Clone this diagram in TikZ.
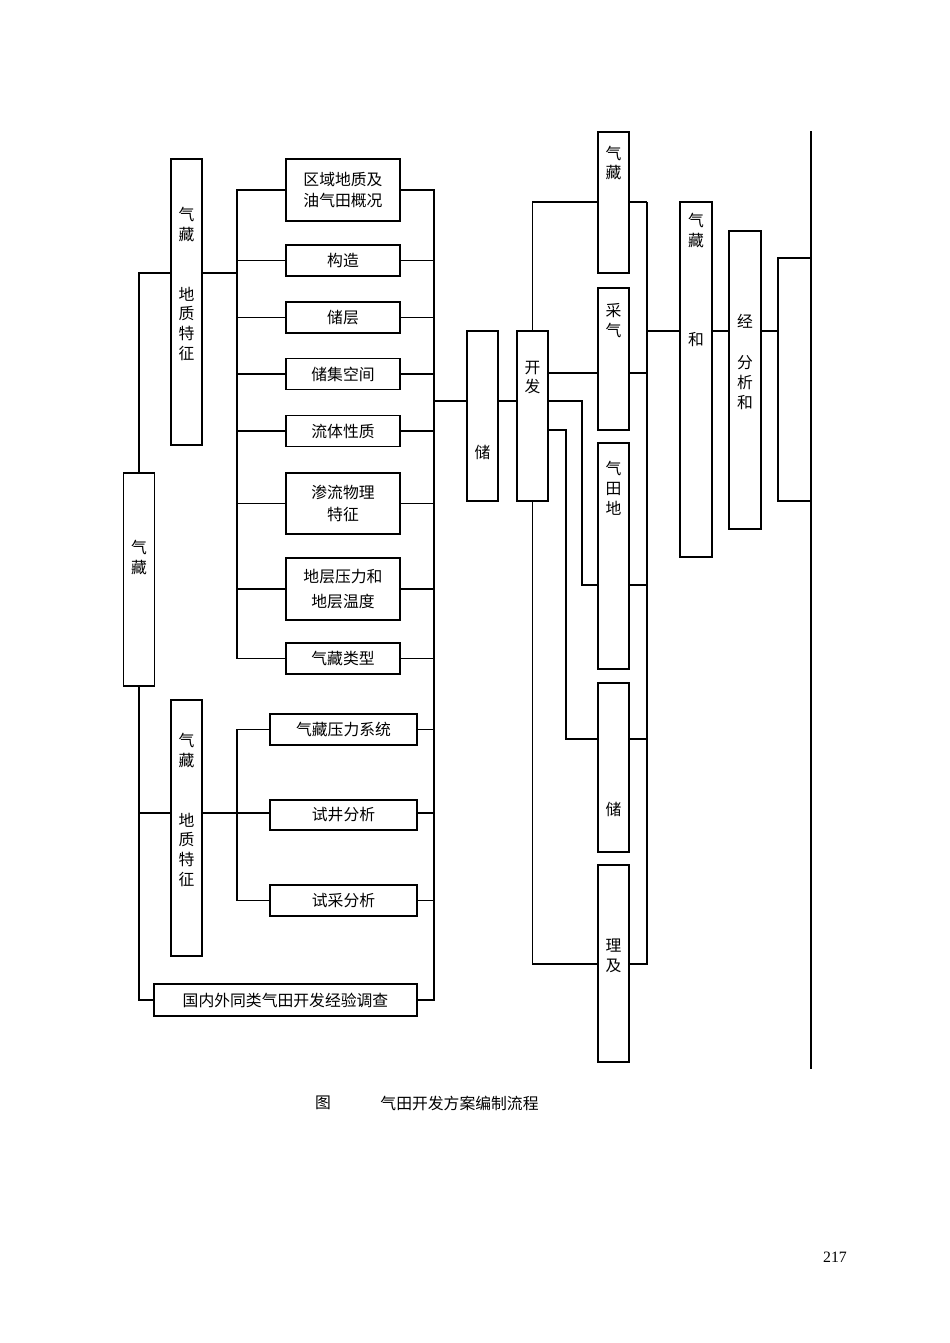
\documentclass[tikz,border=0pt]{standalone}
\usepackage{fontspec}
\setmainfont{Liberation Serif}
\newfontfamily\cjk{Noto Sans CJK SC}
\begin{document}
\begin{tikzpicture}[x=0.02cm, y=-0.02cm, line width=0.7pt,
	box/.style={draw, inner sep=0pt, align=center, font=\cjk\fontsize{9}{12}\selectfont},
	vbox/.style={draw, inner sep=0pt, minimum width=0.62cm},
	vtext/.style={inner sep=0pt, align=center, font=\cjk\fontsize{9}{11.34}\selectfont},
	heavy/.style={line width=1.1pt}]
	\useasboundingbox (0,0) rectangle (950,1343);

	\node[vbox, minimum height=5.72cm] (geoA) at (186.5,302) {};
	\node[vtext] (geoA-t) at (186.5,284) {气\\藏\\[22.7pt]地\\质\\特\\征};
	\node[vbox, minimum height=4.26cm] (resv) at (139,579.5) {};
	\node[vtext] (resv-t) at (139,557.5) {气\\藏};
	\node[vbox, minimum height=5.12cm] (geoB) at (186.5,828) {};
	\node[vtext] (geoB-t) at (186.5,810) {气\\藏\\[22.7pt]地\\质\\特\\征};

	\node[box, minimum width=2.28cm, minimum height=1.24cm] (reg) at (343,190) {区域地质及\\油气田概况};
	\node[box, minimum width=2.28cm, minimum height=0.62cm] (gz) at (343,260.5) {构造};
	\node[box, minimum width=2.28cm, minimum height=0.62cm] (cc) at (343,317.5) {储层};
	\node[box, minimum width=2.28cm, minimum height=0.62cm] (ccj) at (343,374) {储集空间};
	\node[box, minimum width=2.28cm, minimum height=0.62cm] (lt) at (343,431) {流体性质};
	\node[box, minimum width=2.28cm, minimum height=1.22cm] (sl) at (343,503.5) {渗流物理\\[0.5pt]特征};
	\node[box, minimum width=2.28cm, minimum height=1.24cm] (dc) at (343,589) {地层压力和\\[2.2pt]地层温度};
	\node[box, minimum width=2.28cm, minimum height=0.62cm] (lx) at (343,658.5) {气藏类型};
	\node[box, minimum width=2.94cm, minimum height=0.62cm] (ylx) at (343.5,729.5) {气藏压力系统};
	\node[box, minimum width=2.94cm, minimum height=0.6cm] (sj) at (343.5,815) {试井分析};
	\node[box, minimum width=2.94cm, minimum height=0.62cm] (sc) at (343.5,900.5) {试采分析};
	\node[box, minimum width=5.26cm, minimum height=0.64cm] (gn) at (285.5,1000) {国内外同类气田开发经验调查};

	\node[vbox, minimum height=3.4cm] (chu) at (482.5,416) {};
	\node[vtext] (chu-t) at (482.5,452) {储};
	\node[vbox, minimum height=3.4cm] (kaifa) at (532.5,416) {};
	\node[vtext] (kaifa-t) at (532.5,377.5) {开\\发};

	\node[vbox, minimum height=2.82cm] (cqA) at (613.5,202.5) {};
	\node[vtext] (cqA-t) at (613.5,163) {气\\藏};
	\node[vbox, minimum height=2.84cm] (caiqi) at (613.5,359) {};
	\node[vtext] (caiqi-t) at (613.5,321) {采\\气};
	\node[vbox, minimum height=4.52cm] (qtd) at (613.5,556) {};
	\node[vtext] (qtd-t) at (613.5,488) {气\\田\\地};
	\node[vbox, minimum height=3.38cm] (chuB) at (613.5,767.5) {};
	\node[vtext] (chuB-t) at (613.5,809) {储};
	\node[vbox, minimum height=3.94cm] (liji) at (613.5,963.5) {};
	\node[vtext] (liji-t) at (613.5,956) {理\\及};

	\node[vbox, minimum width=0.64cm, minimum height=7.1cm] (cqhe) at (696,379.5) {};
	\node[vtext] (cqhe-t) at (696,280) {气\\藏\\[45.4pt]和};
	\node[vbox, minimum width=0.64cm, minimum height=5.96cm] (jing) at (745,380) {};
	\node[vtext] (jing-t) at (745,362) {经\\[11.9pt]分\\析\\和};
	\node[vbox, minimum width=0.66cm, minimum height=4.86cm] (last) at (794.5,379.5) {};

	\coordinate (jA) at (139,273);
	\coordinate (jB) at (139,813);
	\coordinate (busL) at (237,0);
	\coordinate (busR) at (434,0);
	\coordinate (jM) at (434,401);
	\coordinate (kT) at (0,202);
	\coordinate (kA) at (0,373);
	\coordinate (kB) at (582,401);
	\coordinate (kC) at (566,430);
	\coordinate (yF) at (0,585);
	\coordinate (yG) at (0,739);
	\coordinate (kD) at (0,964);
	\coordinate (busK) at (647,0);
	\coordinate (jK) at (647,331);
	\coordinate (rtop) at (811,131);
	\coordinate (rbot) at (811,1069);

	\draw (geoA.west |- jA) -- (jA) -- (resv.north);
	\draw (resv.south) |- (gn.west);
	\draw[heavy] (jB) -- (geoB.west |- jB);
	\draw (geoA.east |- jA) -- (busL |- jA);
	\draw[heavy] (geoB.east |- jB) -- (sj.west |- jB);
	\draw (reg.west) -| (busL |- lx.west) -- (lx.west);
	\foreach \b in {gz,cc,ccj,lt,sl,dc}
		\draw (\b.west) -- (\b.west -| busL);
	\draw (ylx.west) -| (busL |- sc.west) -- (sc.west);
	\draw (reg.east) -| (busR |- gn.east) -- (gn.east);
	\foreach \b in {gz,cc,ccj,lt,sl,dc,lx,ylx,sc}
		\draw (\b.east) -- (\b.east -| busR);
	\draw[heavy] (sj.east |- jB) -- (busR |- jB);

	\draw (jM) -- (chu.west |- jM);
	\draw (chu.east |- jM) -- (kaifa.west |- jM);
	\draw[heavy] (kaifa.north) |- (cqA.west |- kT);
	\draw (kaifa.east |- kA) -- (caiqi.west |- kA);
	\draw (kaifa.east |- kB) -- (kB) |- (qtd.west |- yF);
	\draw (kaifa.east |- kC) -- (kC) |- (chuB.west |- yG);
	\draw (kaifa.south) |- (liji.west |- kD);

	\draw[heavy] (cqA.east |- kT) -- (busK |- kT);
	\draw (busK |- kT) -- (busK |- kD) -- (liji.east |- kD);
	\draw (caiqi.east |- kA) -- (busK |- kA);
	\draw (qtd.east |- yF) -- (busK |- yF);
	\draw (chuB.east |- yG) -- (busK |- yG);
	\draw (jK) -- (cqhe.west |- jK);
	\draw (cqhe.east |- jK) -- (jing.west |- jK);
	\draw (jing.east |- jK) -- (last.west |- jK);
	\draw (rtop) -- (rbot);

	\node[font=\cjk\fontsize{9}{11}\selectfont] (fig) at (323,1103) {图};
	\node[font=\cjk\fontsize{9}{11}\selectfont] (figtitle) at (459.5,1103) {气田开发方案编制流程};
	\node[font=\fontsize{9}{11}\selectfont] (page) at (835,1257) {217};
\end{tikzpicture}
\end{document}
